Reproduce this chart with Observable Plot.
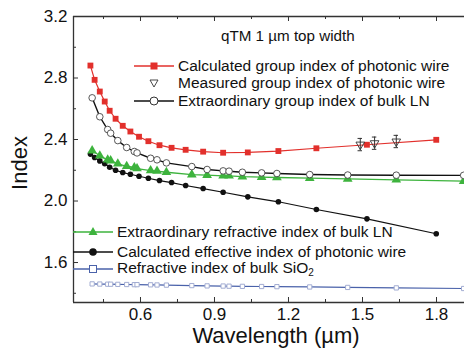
<!DOCTYPE html>
<html><head><meta charset="utf-8">
<script src="https://cdn.jsdelivr.net/npm/d3@7"></script>
<script src="https://cdn.jsdelivr.net/npm/@observablehq/plot@0.6"></script>
<style>
body{margin:0;background:#fff;font-family:Arial,"Liberation Sans",sans-serif;}
#wrap{position:relative;width:464px;height:356px;overflow:hidden;}
.lg{position:absolute;display:flex;align-items:center;font-size:15.5px;color:#111;white-space:nowrap;line-height:1;}
.lg svg{display:block;}
.ttl{position:absolute;font-size:15.2px;color:#111;white-space:nowrap;}
</style></head>
<body><div id="wrap"></div>
<script>
// Wavelengths (µm) for photonic-wire calculations
const lamWire = [0.397,0.414,0.435,0.455,0.475,0.499,0.528,0.559,0.594,0.632,0.677,0.726,0.783,0.854,0.935,1.035,1.159,1.313,1.518,1.799];
const groupCalc = [2.881,2.788,2.712,2.647,2.587,2.535,2.489,2.452,2.418,2.389,2.363,2.346,2.333,2.321,2.314,2.316,2.325,2.343,2.366,2.398];
const effCalc = [2.305,2.283,2.261,2.242,2.220,2.200,2.185,2.174,2.161,2.148,2.133,2.120,2.101,2.081,2.057,2.027,1.995,1.945,1.884,1.787];
// Wavelengths (µm) for bulk materials
const lamBulk = [0.404,0.435,0.467,0.479,0.508,0.544,0.575,0.586,0.641,0.667,0.705,0.808,0.870,0.935,0.959,1.013,1.091,1.153,1.286,1.440,1.637,1.910];
const groupBulk = [2.671,2.548,2.465,2.441,2.393,2.348,2.322,2.313,2.278,2.268,2.248,2.224,2.205,2.196,2.194,2.187,2.183,2.179,2.172,2.169,2.168,2.167];
const neBulk = [2.328,2.294,2.268,2.263,2.242,2.226,2.218,2.211,2.198,2.195,2.187,2.171,2.168,2.164,2.164,2.158,2.155,2.153,2.149,2.144,2.138,2.129];
const nSiO2 = [1.461,1.460,1.459,1.459,1.458,1.457,1.456,1.456,1.455,1.454,1.453,1.450,1.448,1.447,1.446,1.445,1.444,1.443,1.441,1.438,1.435,1.431];
// Measured group index
const lamMeas = [1.491,1.549,1.637];
const groupMeas = [2.367,2.376,2.387];
const errMeas = [0.040,0.040,0.040];
// Ticks
const xTicks = [0.6,0.9,1.2,1.5,1.8];
const xMinor = [0.45,0.75,1.05,1.35,1.65];
const yTicks = [1.6,2.0,2.4,2.8,3.2];
const yMinor = [1.4,1.8,2.2,2.6,3.0];

const RED="#e2302c", GREEN="#3db33d", BLACK="#111", BLUE="#4a62aa", BLUESQ="#a2acd2";
const wire = lamWire.map((x,i)=>({x, g:groupCalc[i], e:effCalc[i]}));
const bulk = lamBulk.map((x,i)=>({x, g:groupBulk[i], n:neBulk[i], s:nSiO2[i]}));
const meas = lamMeas.map((x,i)=>({x, y:groupMeas[i], lo:groupMeas[i]-errMeas[i], hi:groupMeas[i]+errMeas[i]}));

const W=464,H=356,mT=16,mB=54,mL=73,mR=0;
const fh=H-mT-mB, fw=W-mL-mR;
const cap=0.009;

const plot = Plot.plot({
  width:W,height:H,marginTop:mT,marginBottom:mB,marginLeft:mL,marginRight:mR,
  style:{fontFamily:'Arial,"Liberation Sans",sans-serif',color:"#111",background:"transparent"},
  x:{domain:[0.3284,1.9135]},
  y:{domain:[1.340,3.2]},
  marks:[
    // frame (left, top, bottom)
    Plot.ruleX([0.3284],{stroke:"#333",strokeWidth:1.3}),
    Plot.ruleY([1.340,3.2],{stroke:"#333",strokeWidth:1.3}),
    // inward ticks
    Plot.tickX(xTicks,{x:d=>d,insetTop:fh-5,stroke:"#333"}),
    Plot.tickX(xMinor,{x:d=>d,insetTop:fh-3,stroke:"#333"}),
    Plot.tickX(xTicks,{x:d=>d,insetBottom:fh-5,stroke:"#333"}),
    Plot.tickX(xMinor,{x:d=>d,insetBottom:fh-3,stroke:"#333"}),
    Plot.tickY(yTicks,{y:d=>d,insetRight:fw-5,stroke:"#333"}),
    Plot.tickY(yMinor,{y:d=>d,insetRight:fw-3,stroke:"#333"}),
    Plot.axisX({ticks:xTicks,tickSize:0,tickPadding:5,tickFormat:d3.format(".1f"),fontSize:17,label:null}),
    Plot.axisY({ticks:yTicks,tickSize:0,tickPadding:6,tickFormat:d3.format(".1f"),fontSize:17,label:null}),
    // SiO2
    Plot.line(bulk,{x:"x",y:"s",stroke:BLUE,strokeWidth:1.2}),
    Plot.dot(bulk,{x:"x",y:"s",symbol:"square",r:2.4,stroke:BLUESQ,fill:"white",strokeWidth:1}),
    // effective index
    Plot.line(wire,{x:"x",y:"e",stroke:BLACK,strokeWidth:1.2}),
    Plot.dot(wire,{x:"x",y:"e",r:2.8,fill:BLACK}),
    // bulk ne
    Plot.line(bulk,{x:"x",y:"n",stroke:GREEN,strokeWidth:1.3}),
    Plot.dot(bulk,{x:"x",y:"n",symbol:"triangle",r:3.6,fill:GREEN}),
    // bulk group
    Plot.line(bulk,{x:"x",y:"g",stroke:BLACK,strokeWidth:1.4}),
    Plot.dot(bulk,{x:"x",y:"g",r:3.3,stroke:"#444",fill:"white",strokeWidth:0.9}),
    // calc group
    Plot.line(wire,{x:"x",y:"g",stroke:RED,strokeWidth:1.2}),
    Plot.dot(wire,{x:"x",y:"g",symbol:"square",r:3.3,fill:RED}),
    // measured with error bars
    Plot.ruleX(meas,{x:"x",y1:"lo",y2:"hi",stroke:"#333",strokeWidth:1}),
    Plot.ruleY(meas,{y:"lo",x1:d=>d.x-cap,x2:d=>d.x+cap,stroke:"#333",strokeWidth:1}),
    Plot.ruleY(meas,{y:"hi",x1:d=>d.x-cap,x2:d=>d.x+cap,stroke:"#333",strokeWidth:1}),
    Plot.dot(meas,{x:"x",y:"y",symbol:"triangle",rotate:180,r:3.2,stroke:"#333",fill:"none",strokeWidth:0.9})
  ]
});
const wrap=document.getElementById("wrap");
wrap.appendChild(plot);

function sw(kind){
  const w=40,h=12,c=h/2;
  let line="", mk="";
  if(kind==="red"){line=`<line x1="0" x2="${w}" y1="${c}" y2="${c}" stroke="${RED}" stroke-width="1.4"/>`;mk=`<rect x="${w/2-3.5}" y="${c-3.5}" width="7" height="7" fill="${RED}"/>`;}
  if(kind==="meas"){mk=`<path d="M${w/2-4},${c-3}L${w/2+4},${c-3}L${w/2},${c+4}Z" fill="none" stroke="#333" stroke-width="0.9"/>`;}
  if(kind==="ring"){line=`<line x1="0" x2="${w}" y1="${c}" y2="${c}" stroke="${BLACK}" stroke-width="1.4"/>`;mk=`<circle cx="${w/2}" cy="${c}" r="4" fill="white" stroke="#333"/>`;}
  if(kind==="green"){line=`<line x1="0" x2="${w}" y1="${c}" y2="${c}" stroke="${GREEN}" stroke-width="1.4"/>`;mk=`<path d="M${w/2},${c-5}L${w/2+4.5},${c+3}L${w/2-4.5},${c+3}Z" fill="${GREEN}"/>`;}
  if(kind==="dot"){line=`<line x1="0" x2="${w}" y1="${c}" y2="${c}" stroke="${BLACK}" stroke-width="1.4"/>`;mk=`<circle cx="${w/2}" cy="${c}" r="3.8" fill="${BLACK}"/>`;}
  if(kind==="blue"){line=`<line x1="0" x2="${w}" y1="${c}" y2="${c}" stroke="${BLUE}" stroke-width="1.4"/>`;mk=`<rect x="${w/2-3.5}" y="${c-3.5}" width="7" height="7" fill="white" stroke="${BLUE}"/>`;}
  return `<svg width="${w}" height="${h}">${line}${mk}</svg>`;
}
const legendTop=[["red","Calculated group index of photonic wire",66],["meas","Measured group index of photonic wire",83],["ring","Extraordinary group index of bulk LN",101]];
const legendBot=[["green","Extraordinary refractive index of bulk LN",232],["dot","Calculated effective index of photonic wire",252],["blue","Refractive index of bulk SiO<sub style='font-size:10px;vertical-align:-3px'>2</sub>",269]];
legendTop.forEach(([k,t,y])=>{const d=document.createElement("div");d.className="lg";d.style.left="134px";d.style.top=(y-8)+"px";d.style.height="16px";d.innerHTML=sw(k)+`<span style="margin-left:4px">${t}</span>`;wrap.appendChild(d);});
legendBot.forEach(([k,t,y])=>{const d=document.createElement("div");d.className="lg";d.style.left="73px";d.style.top=(y-8)+"px";d.style.height="16px";d.innerHTML=sw(k)+`<span style="margin-left:4px">${t}</span>`;wrap.appendChild(d);});
const title=document.createElement("div");title.className="ttl";title.style.left="221px";title.style.top="27px";title.textContent="qTM 1 µm top width";wrap.appendChild(title);
const xl=document.createElement("div");xl.style.cssText="position:absolute;left:0;width:552px;text-align:center;top:323px;font-size:22px;color:#111;";xl.textContent="Wavelength (µm)";wrap.appendChild(xl);
const yl=document.createElement("div");yl.style.cssText="position:absolute;left:20px;top:163px;font-size:22px;color:#111;transform:translate(-50%,-50%) rotate(-90deg);white-space:nowrap;";yl.textContent="Index";wrap.appendChild(yl);
</script></body></html>
